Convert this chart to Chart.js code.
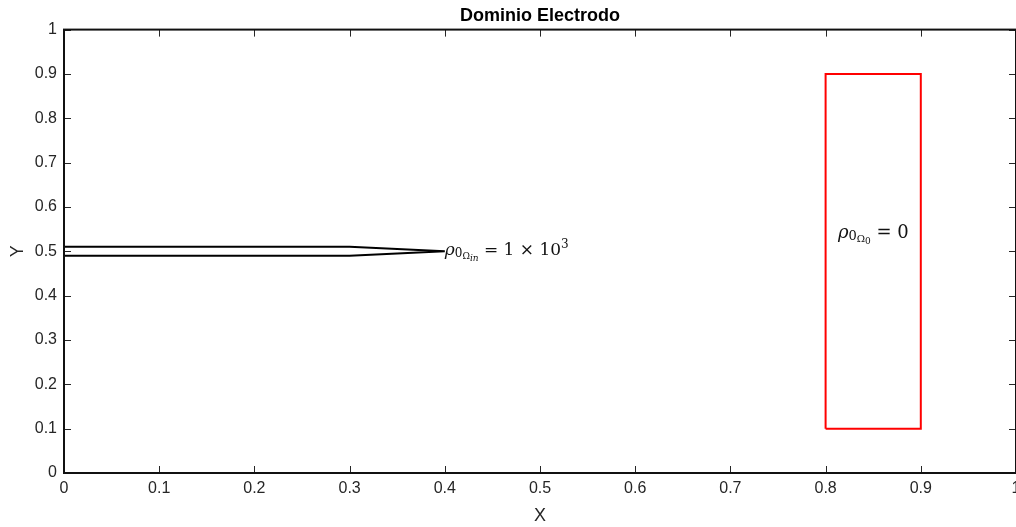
<!DOCTYPE html>
<html>
<head>
<meta charset="utf-8">
<title>Dominio Electrodo</title>
<script src="https://cdn.jsdelivr.net/npm/chart.js@4.4.1/dist/chart.umd.min.js"></script>
<style>
  html, body { margin: 0; padding: 0; background: #fff; }
  #wrap { width: 1016px; height: 527px; }
</style>
</head>
<body>
<div id="wrap"><canvas id="chart" width="1016" height="527"></canvas></div>
<script>
// Electrode outline (tip at x = 0.4) and the grounded region
const electrodeX = [0, 0.3, 0.4, 0.3, 0];
const electrodeY = [0.51, 0.51, 0.5, 0.49, 0.49];
const groundX = [0.8, 0.9, 0.9, 0.8, 0.8];
const groundY = [0.1, 0.1, 0.9, 0.9, 0.1];

// Axis ticks
const xTicks = [0, 0.1, 0.2, 0.3, 0.4, 0.5, 0.6, 0.7, 0.8, 0.9, 1];
const yTicks = [0, 0.1, 0.2, 0.3, 0.4, 0.5, 0.6, 0.7, 0.8, 0.9, 1];

// Annotation anchors (data coords) and their pieces: text, size, baseline shift, italic
const labelAnchors = [[0.4, 0.5], [0.813, 0.54]];
const labelParts = [
  [['ρ', 17, 0, true], ['0', 12, 2, false], ['Ω', 9, 4, false], ['in', 9, 6, true],
   [' = 1 × 10', 17, 0, false], ['3', 12, -7, false]],
  [['ρ', 18, 0, true], ['0', 13, 2, false], ['Ω', 10, 4, false], ['0', 9, 6, false],
   [' = 0', 18, 0, false]]
];

const toPoints = (xs, ys) => xs.map((x, i) => ({ x: x, y: ys[i] }));

const axisColor = '#262626';
const sansFont = '"Liberation Sans", Arial, Helvetica, sans-serif';
const serifFont = '"DejaVu Serif", "Liberation Serif", serif';

// Box, inward ticks and the math labels
const boxPlugin = {
  id: 'boxPlugin',
  afterDatasetsDraw(chart) {
    const { ctx, chartArea: a, scales } = chart;
    const xs = scales.x, ys = scales.y;
    ctx.save();

    ctx.strokeStyle = axisColor;
    ctx.lineWidth = 1;
    const tl = 7;
    ctx.beginPath();
    xTicks.forEach(v => {
      const px = Math.round(xs.getPixelForValue(v)) + 0.5;
      ctx.moveTo(px, a.bottom); ctx.lineTo(px, a.bottom - tl);
      ctx.moveTo(px, a.top); ctx.lineTo(px, a.top + tl);
    });
    yTicks.forEach(v => {
      const py = Math.round(ys.getPixelForValue(v)) + 0.5;
      ctx.moveTo(a.left, py); ctx.lineTo(a.left + tl, py);
      ctx.moveTo(a.right, py); ctx.lineTo(a.right - tl, py);
    });
    ctx.stroke();

    ctx.strokeStyle = '#111';
    ctx.lineWidth = 2;
    ctx.strokeRect(a.left, a.top, a.right - a.left, a.bottom - a.top);

    ctx.fillStyle = '#111';
    ctx.textAlign = 'left';
    ctx.textBaseline = 'alphabetic';
    labelAnchors.forEach((p, k) => {
      let x = xs.getPixelForValue(p[0]);
      const base = ys.getPixelForValue(p[1]) + 4;
      labelParts[k].forEach(([t, size, dy, it]) => {
        ctx.font = (it ? 'italic ' : '') + size + 'px ' + serifFont;
        ctx.fillText(t, x, base + dy);
        x += ctx.measureText(t).width;
      });
    });
    ctx.restore();
  }
};

const ctx = document.getElementById('chart').getContext('2d');

new Chart(ctx, {
  type: 'scatter',
  data: {
    datasets: [
      {
        data: toPoints(electrodeX, electrodeY),
        showLine: true,
        borderColor: '#000',
        borderWidth: 2,
        pointRadius: 0,
        fill: false
      },
      {
        data: toPoints(groundX, groundY),
        showLine: true,
        borderColor: '#ff0000',
        borderWidth: 2,
        pointRadius: 0,
        fill: false
      }
    ]
  },
  options: {
    responsive: false,
    animation: false,
    events: [],
    layout: { padding: { left: 0, right: 0, top: 0, bottom: 0 } },
    plugins: {
      legend: { display: false },
      tooltip: { enabled: false },
      title: {
        display: true,
        fullSize: false,
        text: 'Dominio Electrodo',
        color: '#000',
        font: { family: sansFont, size: 18, weight: 'bold', lineHeight: 1.2 },
        padding: { top: 5, bottom: 3 }
      }
    },
    scales: {
      x: {
        type: 'linear',
        min: 0,
        max: 1,
        grid: { display: false, drawTicks: false },
        border: { display: false },
        afterBuildTicks: s => { s.ticks = xTicks.map(v => ({ value: v })); },
        ticks: {
          color: axisColor,
          padding: 6,
          maxRotation: 0,
          autoSkip: false,
          font: { family: sansFont, size: 16 },
          callback: v => String(Math.round(v * 10) / 10)
        },
        title: {
          display: true,
          text: 'X',
          color: axisColor,
          font: { family: sansFont, size: 18, lineHeight: 1.2 },
          padding: { top: 0, bottom: 0 }
        },
        afterFit: s => { s.height = 54; s.paddingLeft = 0; s.paddingRight = 0; }
      },
      y: {
        type: 'linear',
        min: 0,
        max: 1,
        grid: { display: false, drawTicks: false },
        border: { display: false },
        afterBuildTicks: s => { s.ticks = yTicks.map(v => ({ value: v })); },
        ticks: {
          color: axisColor,
          padding: 7,
          autoSkip: false,
          font: { family: sansFont, size: 16 },
          callback: v => String(Math.round(v * 10) / 10)
        },
        title: {
          display: true,
          text: 'Y',
          color: axisColor,
          font: { family: sansFont, size: 18, lineHeight: 1.2 },
          padding: { top: 7, bottom: 0 }
        },
        afterFit: s => { s.width = 64; s.paddingTop = 0; s.paddingBottom = 0; }
      }
    }
  },
  plugins: [boxPlugin]
});
</script>
</body>
</html>
